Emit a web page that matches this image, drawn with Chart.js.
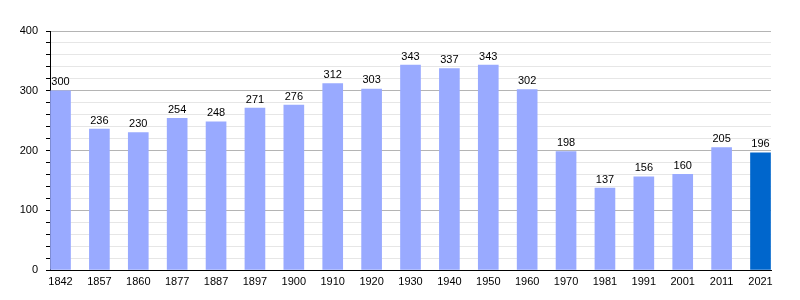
<!DOCTYPE html>
<html>
<head>
<meta charset="utf-8">
<script src="https://cdn.jsdelivr.net/npm/chart.js@4"></script>
<style>
  html, body { margin: 0; padding: 0; background: #fff; }
  #wrap { width: 800px; height: 300px; }
</style>
</head>
<body>
<div id="wrap"><canvas id="myChart"></canvas></div>
<script>
const years = ['1842', '1857', '1860', '1877', '1887', '1897', '1900', '1910', '1920', '1930',
               '1940', '1950', '1960', '1970', '1981', '1991', '2001', '2011', '2021'];
const population = [300, 236, 230, 254, 248, 271, 276, 312, 303, 343,
                    337, 343, 302, 198, 137, 156, 160, 205, 196];
const yTicks = [0, 100, 200, 300, 400];

const lightBar = '#99aaff';
const darkBar = '#0066cc';

// value labels above each bar
const valueLabels = {
    id: 'valueLabels',
    afterDatasetsDraw(chart) {
        const ctx = chart.ctx;
        const meta = chart.getDatasetMeta(0);
        ctx.save();
        ctx.font = '11px "Liberation Sans", Arial, sans-serif';
        ctx.fillStyle = '#000';
        ctx.textAlign = 'center';
        ctx.textBaseline = 'bottom';
        meta.data.forEach((bar, i) => {
            ctx.fillText(String(population[i]), bar.x, bar.y - 3);
        });
        ctx.restore();
    }
};

const ctx = document.getElementById('myChart').getContext('2d');
new Chart(ctx, {
    type: 'bar',
    data: {
        datasets: [{
            data: population.map((v, i) => ({ x: i, y: v })),
            backgroundColor: population.map((_, i) => i === population.length - 1 ? darkBar : lightBar),
            borderWidth: 0,
            barThickness: 20
        }]
    },
    options: {
        responsive: true,
        maintainAspectRatio: false,
        animation: false,
        layout: { padding: { top: 31, right: 29, left: 0, bottom: 0 } },
        plugins: {
            legend: { display: false },
            tooltip: { enabled: false }
        },
        scales: {
            x: {
                type: 'linear',
                offset: false,
                min: -0.27,
                max: 18.27,
                afterBuildTicks: scale => {
                    scale.ticks = years.map((_, i) => ({ value: i }));
                },
                afterFit: scale => { scale.height = 30; },
                grid: { display: false, drawTicks: false, offset: false },
                border: { display: true, color: '#000', width: 1 },
                ticks: {
                    autoSkip: false,
                    maxRotation: 0,
                    padding: 5,
                    color: '#000',
                    font: { family: '"Liberation Sans", Arial, sans-serif', size: 11 },
                    callback: v => years[v]
                }
            },
            y: {
                min: 0,
                max: 400,
                afterBuildTicks: scale => {
                    const t = [];
                    for (let v = 0; v <= 400; v += 20) t.push({ value: v });
                    scale.ticks = t;
                },
                afterFit: scale => { scale.width = 50; },
                grid: {
                    color: c => (c.tick && c.tick.value % 100 === 0) ? '#b4b4b4' : '#e6e6e6',
                    tickColor: '#000',
                    tickLength: 4,
                    drawTicks: true
                },
                border: { display: true, color: '#000', width: 1 },
                ticks: {
                    autoSkip: false,
                    padding: 8,
                    color: '#000',
                    font: { family: '"Liberation Sans", Arial, sans-serif', size: 11 },
                    callback: v => yTicks.includes(v) ? String(v) : ''
                }
            }
        }
    },
    plugins: [valueLabels]
});
</script>
</body>
</html>
